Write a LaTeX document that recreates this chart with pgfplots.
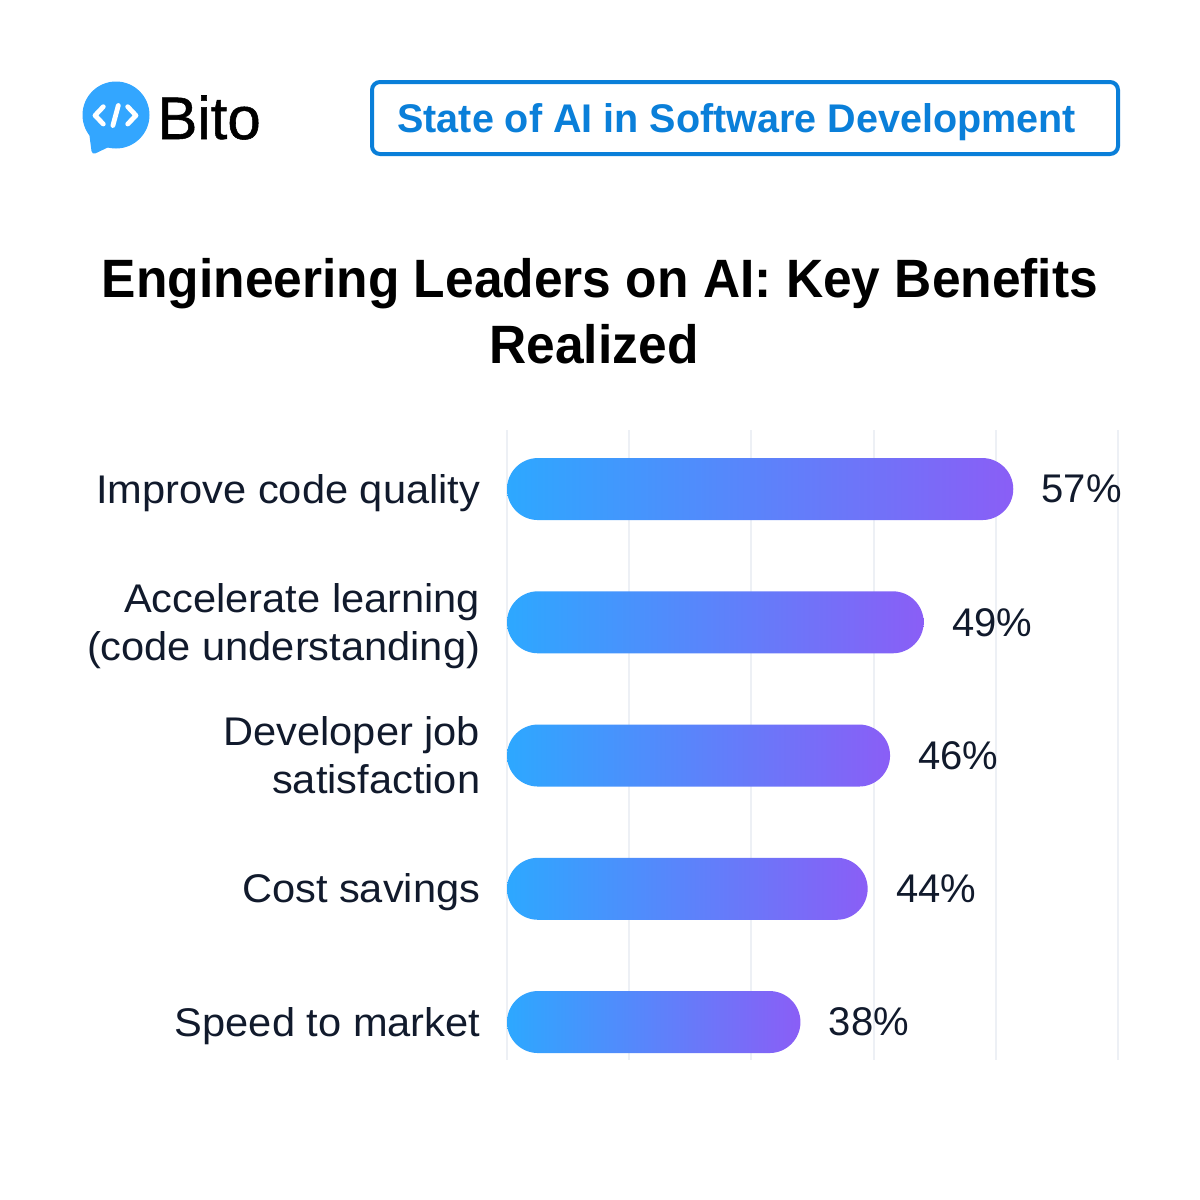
\documentclass[border=0pt]{standalone}
\usepackage{fontspec}
\setmainfont[FakeStretch=1.04]{Liberation Sans}
\newfontfamily\valuefont{Liberation Sans}
\newfontfamily\titlefont[FakeStretch=0.954]{Liberation Sans Bold}
\newfontfamily\bannerfont[FakeStretch=0.988]{Liberation Sans Bold}
\newfontfamily\bitofont[FakeBold=0.9,FakeStretch=1.0]{Liberation Sans}
\usepackage{pgfplots}
\pgfplotsset{compat=1.18}
\definecolor{barL}{HTML}{2DA8FF}
\definecolor{barR}{HTML}{8A5EF6}
\definecolor{ink}{HTML}{111A2C}
\definecolor{gridc}{HTML}{EDF0F5}
\definecolor{brand}{HTML}{0A7FD9}
\definecolor{logoc}{HTML}{33A6FF}
\pgfplotsset{
  pillbar/.style={xbar, bar width=31pt, bar shift=0pt, draw=none,
    left color=barL, right color=barR, rounded corners=15.5pt,
    x filter/.code={\pgfmathparse{##1-11.8}},
    point meta=rawx,
    nodes near coords={\pgfmathprintnumber[assume math mode=true]{\pgfplotspointmeta}\%},
    every node near coord/.append style={anchor=west, inner sep=0pt, xshift=14pt, yshift=0pt,
      font=\fontsize{20}{24}\selectfont\valuefont, text=ink}},
}
\begin{document}
\begin{tikzpicture}[x=0.5pt,y=-0.5pt]
\path[fill=white] (0,0) rectangle (1200,1200);
% logo
\fill[logoc] (116,115) circle (33.5);
\fill[logoc,rounded corners=2pt] (89,132) -- (92,155) -- (113,145) -- cycle;
\draw[white,line width=2.4pt,line cap=round,line join=round] (103.3,106.7) -- (95,115.5) -- (103.3,124);
\draw[white,line width=2.4pt,line cap=round] (118.3,105.5) -- (112.9,125.5);
\draw[white,line width=2.4pt,line cap=round,line join=round] (127.7,106.7) -- (136,115.5) -- (127.7,124);
\node[anchor=base west,inner sep=0pt,text=black] at (157,139) {\fontsize{30}{36}\selectfont\bitofont Bito};
% banner
\draw[brand,line width=2pt,rounded corners=4pt] (372,82) rectangle (1118,154);
\node[anchor=base west,inner sep=0pt,text=brand] at (397,132) {\fontsize{20}{24}\selectfont\bannerfont State of AI in Software Development};
% title
\node[anchor=base,inner sep=0pt,text=black] at (600,297) {\fontsize{27}{33}\selectfont\titlefont Engineering Leaders on AI: Key Benefits};
\node[anchor=base,inner sep=0pt,text=black] at (594,363) {\fontsize{27}{33}\selectfont\titlefont Realized};
\begin{axis}[
  at={(253.5pt,-530pt)}, anchor=south west,
  scale only axis, width=305.5pt, height=315pt,
  clip=false, axis on top=false,
  xmin=0, xmax=54.55, ymin=-0.443, ymax=4.285, y dir=reverse,
  axis line style={draw=none},
  major tick length=0pt,
  xtick={0,10.91,21.82,32.73,43.64,54.55}, xticklabels={},
  xmajorgrids, grid style={gridc, line width=1pt},
  ytick={0,1,2,3,4},
  yticklabels={\strut Improve code quality\strut,{\strut Accelerate learning\strut\\\strut(code understanding)\strut},{\strut Developer job\strut\\\strut satisfaction\strut},\strut Cost savings\strut,\strut Speed to market\strut},
  y tick label style={align=right, inner sep=0pt, xshift=-13.2pt, yshift=-2.2pt, text=ink, font=\fontsize{20}{24}\selectfont},
]
\addplot[pillbar] coordinates {(57,0)};
\addplot[pillbar] coordinates {(49,1)};
\addplot[pillbar] coordinates {(46,2)};
\addplot[pillbar] coordinates {(44,3)};
\addplot[pillbar] coordinates {(38,4)};
\end{axis}
\end{tikzpicture}
\end{document}
